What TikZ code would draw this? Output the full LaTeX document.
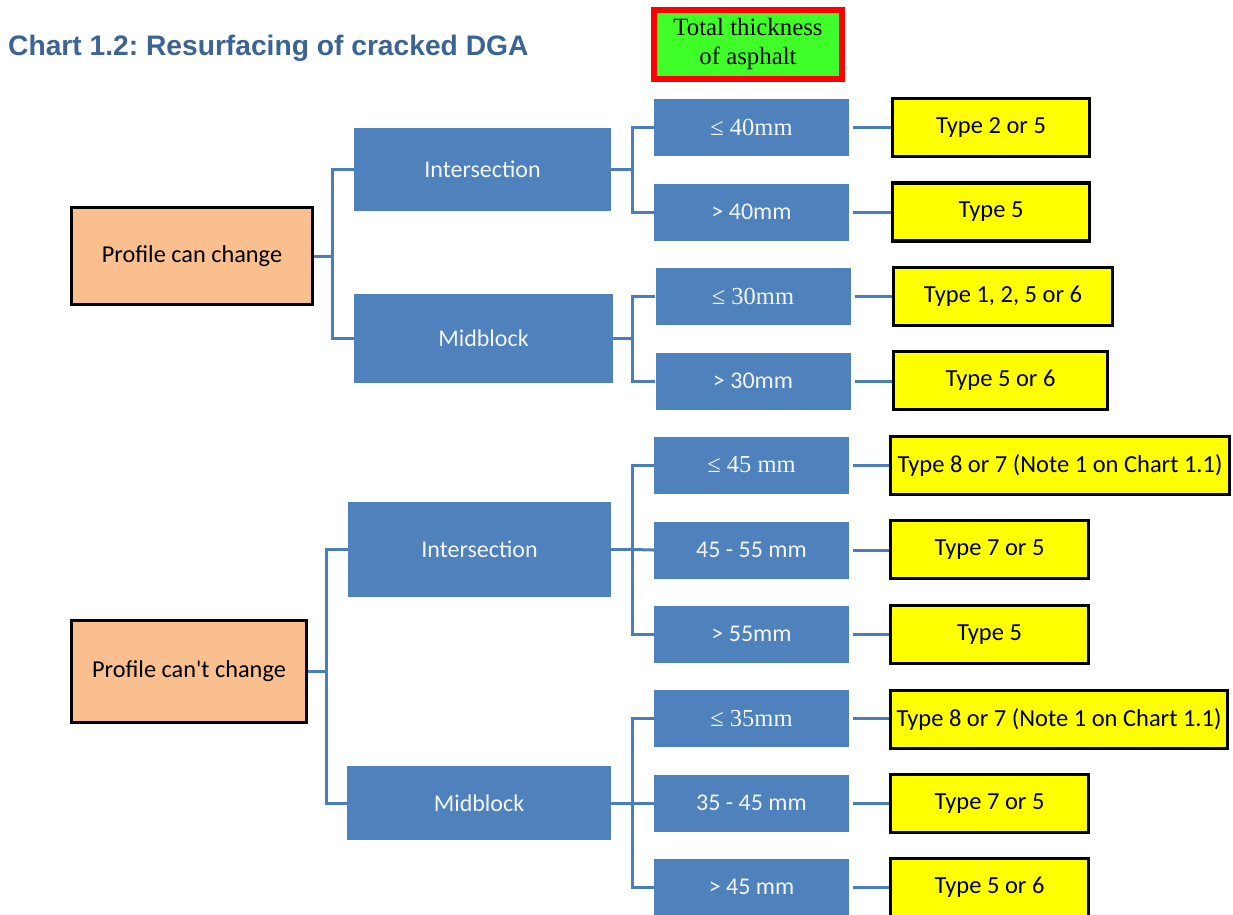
\documentclass[tikz,border=0pt]{standalone}
\usepackage{fontspec}
\setmainfont{Carlito}
\newfontfamily\serifrm{Liberation Serif}
\newfontfamily\titlefont{Liberation Sans}
\definecolor{boxblue}{RGB}{79,129,189}
\definecolor{lineblue}{RGB}{74,126,187}
\definecolor{titleblue}{RGB}{59,99,148}
\definecolor{peach}{RGB}{250,191,143}
\definecolor{hdrgreen}{RGB}{64,255,40}
\definecolor{hdrred}{RGB}{255,0,0}
\definecolor{ylw}{RGB}{255,255,0}
\definecolor{txtwhite}{RGB}{242,246,250}
\frenchspacing
\begin{document}
\begin{tikzpicture}[x=1pt,y=-1pt,
  profbox/.style={draw=black,line width=3pt,fill=peach,inner sep=0pt,
    font=\fontsize{24.3}{28}\selectfont},
  catbox/.style={fill=boxblue,inner sep=0pt,text=txtwhite,
    font=\fontsize{24}{28}\selectfont},
  thkbox/.style={fill=boxblue,inner sep=0pt,text=txtwhite,minimum width=195pt,minimum height=57pt,
    font=\fontsize{24}{28}\selectfont},
  thkserif/.style={thkbox,font=\serifrm\fontsize{24.5}{28}\selectfont},
  resbox/.style={draw=black,line width=3.5pt,fill=ylw,inner sep=0pt,minimum height=58pt,
    font=\fontsize{24.5}{28}\selectfont},
  conn/.style={draw=lineblue,line width=3pt},
  leaf/.style={conn,shorten <=4pt}
]
\begin{scope}
\clip (0,0) rectangle (1233,914);
\fill[white] (0,0) rectangle (1233,914);

% title
\node[anchor=west,text=titleblue,font=\titlefont\bfseries\fontsize{28.2}{32}\selectfont,inner sep=0pt] (title) at (8,48) {Chart 1.2: Resurfacing of cracked DGA};

% header
\node[draw=hdrred,line width=6pt,fill=hdrgreen,minimum width=188pt,minimum height=69pt,inner sep=0pt,
  align=center,font=\serifrm\fontsize{24.8}{29}\selectfont] (hdr) at (748,44.5) {Total thickness\\of asphalt};

% level 1
\node[profbox,minimum width=241pt,minimum height=97pt] (p1) at (192,256) {Profile can change};
\node[profbox,minimum width=235pt,minimum height=102pt] (p2) at (189,671.5) {Profile can\textquotesingle t change};

% level 2
\node[catbox,minimum width=257pt,minimum height=83pt] (i1) at (482.5,169.5) {Intersection};
\node[catbox,minimum width=259pt,minimum height=89pt] (m1) at (483.5,338.5) {Midblock};
\node[catbox,minimum width=263pt,minimum height=95pt] (i2) at (479.5,549.5) {Intersection};
\node[catbox,minimum width=264pt,minimum height=74pt] (m2) at (479,803) {Midblock};

% level 3
\node[thkserif] (a1) at (751.5,127.5) {≤ 40mm};
\node[thkbox] (a2) at (751.5,212) {> 40mm};
\node[thkserif] (a3) at (753,296.5) {≤ 30mm};
\node[thkbox] (a4) at (753,381) {> 30mm};
\node[thkserif] (b1) at (751.5,465) {≤ 45 mm};
\node[thkbox] (b2) at (751.5,550) {45 - 55 mm};
\node[thkbox] (b3) at (751.5,634) {> 55mm};
\node[thkserif] (c1) at (751.5,718) {≤ 35mm};
\node[thkbox] (c2) at (751.5,803) {35 - 45 mm};
\node[thkbox] (c3) at (751.5,887) {> 45 mm};

% results
\node[resbox,minimum width=197pt] (y1) at (991,127.5) {Type 2 or 5};
\node[resbox,minimum width=197pt] (y2) at (991,212) {Type 5};
\node[resbox,minimum width=219pt] (y3) at (1003,296.5) {Type 1, 2, 5 or 6};
\node[resbox,minimum width=214pt] (y4) at (1000.5,380.5) {Type 5 or 6};
\node[resbox,minimum width=339pt] (y5) at (1060,465.5) {Type 8 or 7 (Note 1 on Chart 1.1)};
\node[resbox,minimum width=198pt] (y6) at (989.5,549.5) {Type 7 or 5};
\node[resbox,minimum width=198pt] (y7) at (989.5,634.5) {Type 5};
\node[resbox,minimum width=337pt] (y8) at (1059,719.5) {Type 8 or 7 (Note 1 on Chart 1.1)};
\node[resbox,minimum width=198pt] (y9) at (989.5,803.5) {Type 7 or 5};
\node[resbox,minimum width=198pt] (y10) at (989.5,887.5) {Type 5 or 6};

% bus coordinates
\coordinate (busA) at (332,0);
\coordinate (busB) at (326,0);
\coordinate (busC) at (632,0);

% level1 -> level2
\draw[conn] (p1.east) -- (p1.east -| busA) |- (i1.west);
\draw[conn] (p1.east -| busA) |- (m1.west);
\draw[conn] (p2.east) -- (p2.east -| busB) |- (i2.west);
\draw[conn] (p2.east -| busB) |- (m2.west);

% level2 -> level3
\draw[conn] (i1.east) -- (i1.east -| busC) |- (a1.west);
\draw[conn] (i1.east -| busC) |- (a2.west);
\draw[conn] (m1.east) -- (m1.east -| busC) |- (a3.west);
\draw[conn] (m1.east -| busC) |- (a4.west);
\draw[conn] (i2.east) -- (i2.east -| busC);
\draw[conn] (i2.east -| busC) |- (b1.west);
\draw[conn] (i2.east -| busC) -- (b2.west);
\draw[conn] (i2.east -| busC) |- (b3.west);
\draw[conn] (m2.east) -- (m2.east -| busC);
\draw[conn] (m2.east -| busC) |- (c1.west);
\draw[conn] (m2.east -| busC) -- (c2.west);
\draw[conn] (m2.east -| busC) |- (c3.west);

% level3 -> results
\draw[leaf] (a1.east) -- (a1.east -| y1.west);
\draw[leaf] (a2.east) -- (a2.east -| y2.west);
\draw[leaf] (a3.east) -- (a3.east -| y3.west);
\draw[leaf] (a4.east) -- (a4.east -| y4.west);
\draw[leaf] (b1.east) -- (b1.east -| y5.west);
\draw[leaf] (b2.east) -- (b2.east -| y6.west);
\draw[leaf] (b3.east) -- (b3.east -| y7.west);
\draw[leaf] (c1.east) -- (c1.east -| y8.west);
\draw[leaf] (c2.east) -- (c2.east -| y9.west);
\draw[leaf] (c3.east) -- (c3.east -| y10.west);
\end{scope}
\useasboundingbox (0,0) rectangle (1233,914);
\end{tikzpicture}
\end{document}
